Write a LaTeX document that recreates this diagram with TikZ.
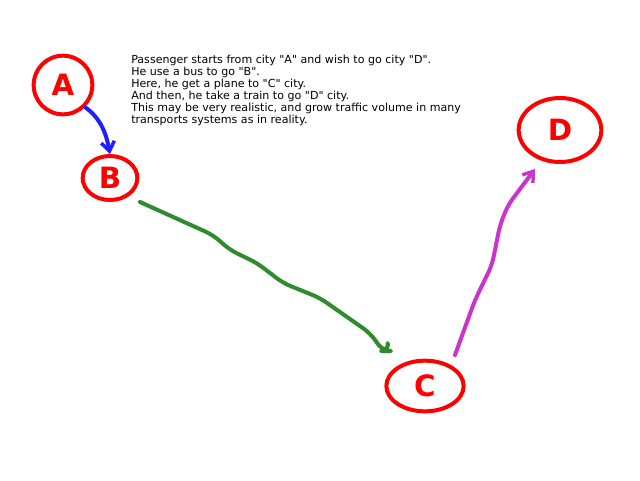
\documentclass[tikz,border=0pt]{standalone}
\usepackage{fontspec}
\setmainfont{DejaVu Sans}[Ligatures=TeXOff]
\newfontfamily\letterfont{DejaVu Sans}
\usetikzlibrary{shapes.geometric,arrows.meta}
\definecolor{cityred}{HTML}{FF0000}
\definecolor{busblue}{HTML}{1F1FFF}
\definecolor{planegreen}{HTML}{2E8B2E}
\definecolor{trainmag}{HTML}{CC33CC}
\tikzset{
  city/.style={ellipse, draw=cityred, line width=3pt, text=cityred, inner sep=0pt,
    font=\letterfont\bfseries\fontsize{22}{22}\selectfont},
  stroke/.style={line width=3pt, line cap=round, line join=round, rounded corners=6pt},
  tip/.style={-{Straight Barb[length=7pt,width=10pt,line width=2.6pt]}},
  note/.style={anchor=north west, align=left, inner sep=0pt,
    font=\fontsize{8.3}{9}\selectfont}
}
\begin{document}
\begin{tikzpicture}[x=0.75pt,y=-0.75pt]
\useasboundingbox (0,0) rectangle (640,480);
\fill[white] (0,0) rectangle (640,480);
\node[city, minimum width=44pt, minimum height=44pt] (A) at (63,85) {A};
\node[city, minimum width=41pt, minimum height=33pt] (B) at (110,178) {B};
\node[city, minimum width=58pt, minimum height=38pt] (C) at (425,386) {C};
\node[city, minimum width=62pt, minimum height=48pt] (D) at (560,130) {D};
\node[note] (T) at (131,55) {Passenger starts from city "A" and wish to go city "D".\\
He use a bus to go "B".\\
Here, he get a plane to "C" city.\\
And then, he take a train to go "D" city.\\
This may be very realistic, and grow traffic volume in many\\
transports systems as in reality.};
\coordinate (ga) at (140,202);
\coordinate (ma) at (455,355);
\draw[stroke, busblue, tip] (A.-45) .. controls (100,118) and (106,132) .. (B.north);
\draw[stroke, planegreen] (ga) -- (213,235) -- (230,250) -- (257,263) -- (283,283)
  -- (320,298) -- (347,317) -- (370,333) -- (383,351) -- (389,351) -- (388,345);
\draw[stroke, trainmag, tip] (ma) -- (475,300) -- (492,265) -- (500,225) -- (508,205) -- (535,169);
\end{tikzpicture}
\end{document}
